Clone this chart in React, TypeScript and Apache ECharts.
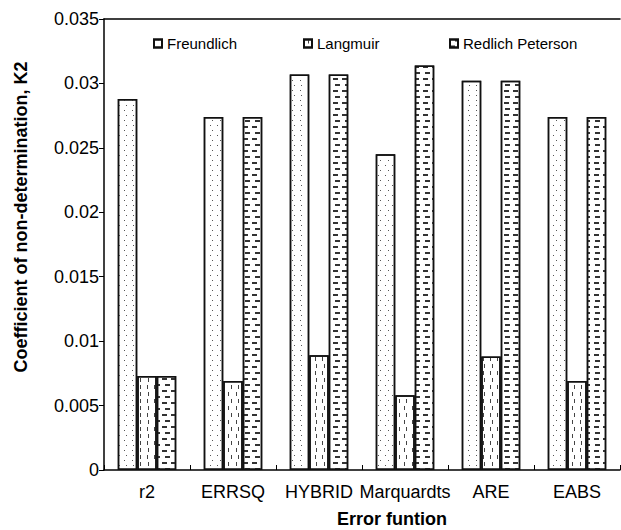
import React, { useEffect, useRef } from "react";
import * as echarts from "echarts";

const categories = ["r2", "ERRSQ", "HYBRID", "Marquardts", "ARE", "EABS"];
const seriesNames = ["Freundlich", "Langmuir", "Redlich Peterson"];
const freundlich = [0.0288, 0.0274, 0.0307, 0.0245, 0.0302, 0.0274];
const langmuir = [0.0073, 0.0069, 0.0089, 0.0058, 0.0088, 0.0069];
const redlich = [0.0073, 0.0274, 0.0307, 0.0314, 0.0302, 0.0274];
const yTicks = [0, 0.005, 0.01, 0.015, 0.02, 0.025, 0.03, 0.035];

const FONT = "'Liberation Sans', Arial, sans-serif";

const decals: any[] = [
  { symbol: "rect", symbolSize: 1, dashArrayX: [[1, 6], [0, 3.5, 1, 2.5]], dashArrayY: [1, 3.5], color: "#555", backgroundColor: "#fff" },
  { symbol: "rect", symbolSize: 1, dashArrayX: [[1, 6], [0, 3.5, 1, 2.5]], dashArrayY: [3.5, 2.5], color: "#444", backgroundColor: "#fff" },
  { symbol: "rect", symbolSize: 1, dashArrayX: [[5, 4], [0, 4.5, 4.5, 0]], dashArrayY: [1.2, 3.3], color: "#333", backgroundColor: "#fff" },
];

export default function App() {
  const ref = useRef<HTMLDivElement>(null);
  useEffect(() => {
    if (!ref.current) return;
    const chart = echarts.init(ref.current, null, { renderer: "svg" });
    const datas = [freundlich, langmuir, redlich];
    const legendLefts = [153, 303, 449];
    chart.setOption({
      animation: false,
      backgroundColor: "#fff",
      textStyle: { fontFamily: FONT },
      grid: { left: 104, right: 1, top: 19, bottom: 60, containLabel: false },
      legend: seriesNames.map((n, i) => ({
        data: [{ name: n, icon: "rect" }],
        left: legendLefts[i],
        top: 36,
        padding: 0,
        itemWidth: 8,
        itemHeight: 8,
        itemGap: 0,
        selectedMode: false,
        textStyle: { fontSize: 15, fontFamily: FONT, color: "#000" },
      })),
      xAxis: [
        {
          type: "category",
          data: categories,
          position: "bottom",
          axisLine: { show: true, lineStyle: { color: "#000", width: 1.5 } },
          axisTick: { show: true, inside: true, length: 5, lineStyle: { color: "#000", width: 1 } },
          axisLabel: { interval: 0, fontSize: 18, color: "#000", fontFamily: FONT, margin: 13 },
        },
        {
          type: "category",
          data: categories,
          position: "top",
          axisLine: { show: true, lineStyle: { color: "#000", width: 1.5 } },
          axisTick: { show: false },
          axisLabel: { show: false },
        },
      ],
      yAxis: {
        type: "value",
        min: 0,
        max: 0.035,
        interval: 0.005,
        axisLine: { show: true, lineStyle: { color: "#000", width: 1.5 } },
        axisTick: { show: true, inside: false, length: 5, lineStyle: { color: "#000", width: 1 } },
        splitLine: { show: false },
        axisLabel: {
          fontSize: 18,
          color: "#000",
          fontFamily: FONT,
          margin: 5,
          formatter: (v: number) => {
            const t = yTicks.find((k) => Math.abs(k - v) < 1e-9);
            return String(Number((t ?? v).toFixed(3)));
          },
        },
      },
      series: seriesNames.map((n, i) => ({
        name: n,
        type: "bar",
        data: datas[i],
        barWidth: 19.5,
        barGap: "0%",
        itemStyle: { color: "#fff", borderColor: "#111", borderWidth: 1.5, decal: decals[i] },
        emphasis: { disabled: true },
      })),
      graphic: [
        {
          type: "text",
          x: 21,
          y: 217,
          rotation: Math.PI / 2,
          style: {
            text: "Coefficient of non-determination, K2",
            fontSize: 18,
            fontWeight: "bold",
            fontFamily: FONT,
            fill: "#000",
            textAlign: "center",
            textVerticalAlign: "middle",
          },
        },
        {
          type: "text",
          x: 392,
          y: 519,
          style: {
            text: "Error funtion",
            fontSize: 18,
            fontWeight: "bold",
            fontFamily: FONT,
            fill: "#000",
            textAlign: "center",
            textVerticalAlign: "middle",
          },
        },
      ],
    });
    return () => chart.dispose();
  }, []);
  return <div ref={ref} style={{ position: "fixed", left: 0, top: 0, width: 621, height: 530 }} />;
}
